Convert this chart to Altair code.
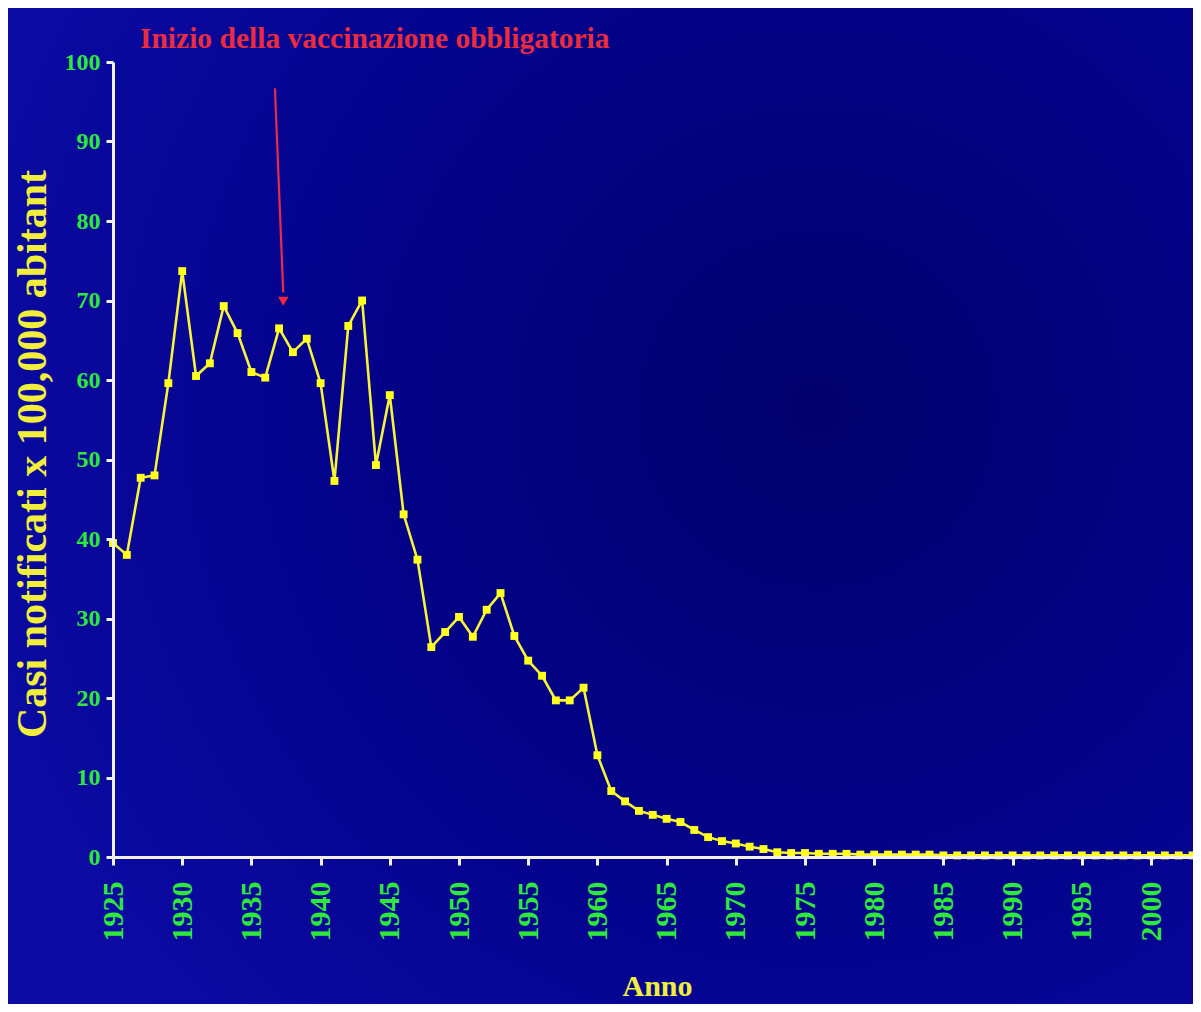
import altair as alt
import pandas as pd

years = list(range(1925, 2004))
cases = [
    39.5, 38.0, 47.7, 48.0, 59.6, 73.7, 60.5, 62.1, 69.3, 65.9,
    61.0, 60.3, 66.5, 63.5, 65.2, 59.6, 47.3, 66.8, 70.0, 49.3,
    58.1, 43.1, 37.4, 26.4, 28.3, 30.2, 27.7, 31.1, 33.2, 27.8,
    24.7, 22.8, 19.7, 19.7, 21.3, 12.8, 8.3, 7.0, 5.8, 5.3,
    4.8, 4.4, 3.4, 2.5, 2.0, 1.7, 1.3, 1.0, 0.6, 0.5,
    0.5, 0.4, 0.4, 0.4, 0.3, 0.3, 0.3, 0.3, 0.3, 0.3,
    0.2, 0.2, 0.2, 0.2, 0.2, 0.2, 0.2, 0.2, 0.2, 0.2,
    0.2, 0.2, 0.2, 0.2, 0.2, 0.2, 0.2, 0.2, 0.2,
]
x_ticks = list(range(1925, 2001, 5))
y_ticks = list(range(0, 101, 10))

annotation_text = ["Inizio della vaccinazione obbligatoria"]
annotation_x = [1926.95]
annotation_y = [101.8]
arrow_x = [1936.7]
arrow_x2 = [1937.3]
arrow_y = [96.7]
arrow_y2 = [71.0]
arrow_tip_y = [69.9]

W, H = 1080, 795
PAD_L, PAD_T, PAD_R, PAD_B = 105, 54, 0, 147

df = pd.DataFrame({"Anno": years, "Casi": cases})
ann = pd.DataFrame({"t": annotation_text, "x": annotation_x, "y": annotation_y})
arr = pd.DataFrame({"x": arrow_x, "x2": arrow_x2, "y": arrow_y, "y2": arrow_y2,
                    "ty": arrow_tip_y})

xscale = alt.Scale(domain=[1925, 1925 + W / 13.84], nice=False, zero=False)
yscale = alt.Scale(domain=[0, 100], nice=False)

bg = alt.Chart(pd.DataFrame({"a": [0]})).mark_rect(
    fill=alt.RadialGradient(
        gradient="radial",
        x1=0.68, y1=0.42, r1=0.0,
        x2=0.68, y2=0.42, r2=0.75,
        stops=[
            alt.GradientStop(offset=0, color="#00006c"),
            alt.GradientStop(offset=0.55, color="#04038c"),
            alt.GradientStop(offset=1, color="#0c0ba4"),
        ],
    ),
    clip=False,
).encode(
    x=alt.value(-PAD_L - 10), x2=alt.value(W + PAD_R + 10),
    y=alt.value(-PAD_T - 10), y2=alt.value(H + PAD_B + 10),
)

xaxis = alt.Axis(
    values=x_ticks, format="d", labelAngle=-90, labelAlign="right",
    labelBaseline="middle", labelFont="Liberation Serif", labelFontWeight="bold",
    labelFontSize=30, labelColor="#2ee83a", labelPadding=16,
    tickSize=8, tickWidth=3, tickColor="#f2f0e4",
    domainColor="#f2f0e4", domainWidth=3,
    grid=False, title="Anno", titleFont="Liberation Serif",
    titleFontWeight="bold", titleFontSize=30, titleColor="#f2ee3c",
    titleX=544, titleY=138, titleBaseline="alphabetic", titleAlign="center",
    zindex=1, labelOverlap=False,
)
yaxis = alt.Axis(
    values=y_ticks, labelFont="Liberation Serif", labelFontWeight="bold",
    labelFontSize=24, labelColor="#2ee83a", labelPadding=6,
    tickSize=7, tickWidth=3, tickColor="#f2f0e4",
    domainColor="#f2f0e4", domainWidth=3,
    grid=False, title="Casi notificati x 100,000 abitant",
    titleFont="Liberation Serif", titleFontWeight="bold", titleFontSize=42,
    titleColor="#f2ee3c", titleAngle=-90, titleX=-81, titleY=H / 2 - 6,
    titleBaseline="middle", titleAlign="center", zindex=1,
)

base = alt.Chart(df).encode(
    x=alt.X("Anno:Q", scale=xscale, axis=xaxis),
    y=alt.Y("Casi:Q", scale=yscale, axis=yaxis),
)
line = base.mark_line(color="#f7f23a", strokeWidth=2.6, clip=False)
pts = base.mark_square(color="#ffff1e", size=62, opacity=1, clip=False)

txt = alt.Chart(ann).mark_text(
    font="Liberation Serif", fontWeight="bold", fontSize=29.5, color="#ea2c3c",
    align="left", baseline="alphabetic", clip=False,
).encode(x=alt.X("x:Q", scale=xscale), y=alt.Y("y:Q", scale=yscale), text="t:N")

rule = alt.Chart(arr).mark_rule(color="#e62c48", strokeWidth=2.2, clip=False).encode(
    x=alt.X("x:Q", scale=xscale), x2="x2:Q",
    y=alt.Y("y:Q", scale=yscale), y2="y2:Q",
)
head = alt.Chart(arr).mark_point(
    shape="triangle-down", filled=True, color="#f2283a", size=110, opacity=1, clip=False,
).encode(x=alt.X("x2:Q", scale=xscale), y=alt.Y("ty:Q", scale=yscale))

chart = alt.layer(bg, line, pts, rule, head, txt).properties(
    width=W, height=H,
    autosize=alt.AutoSizeParams(type="none"),
    padding={"left": PAD_L, "top": PAD_T, "right": PAD_R, "bottom": PAD_B},
    background="#06048e",
).configure_view(stroke=None)

chart.save("out.html", embed_options={"renderer": "svg", "actions": False})
